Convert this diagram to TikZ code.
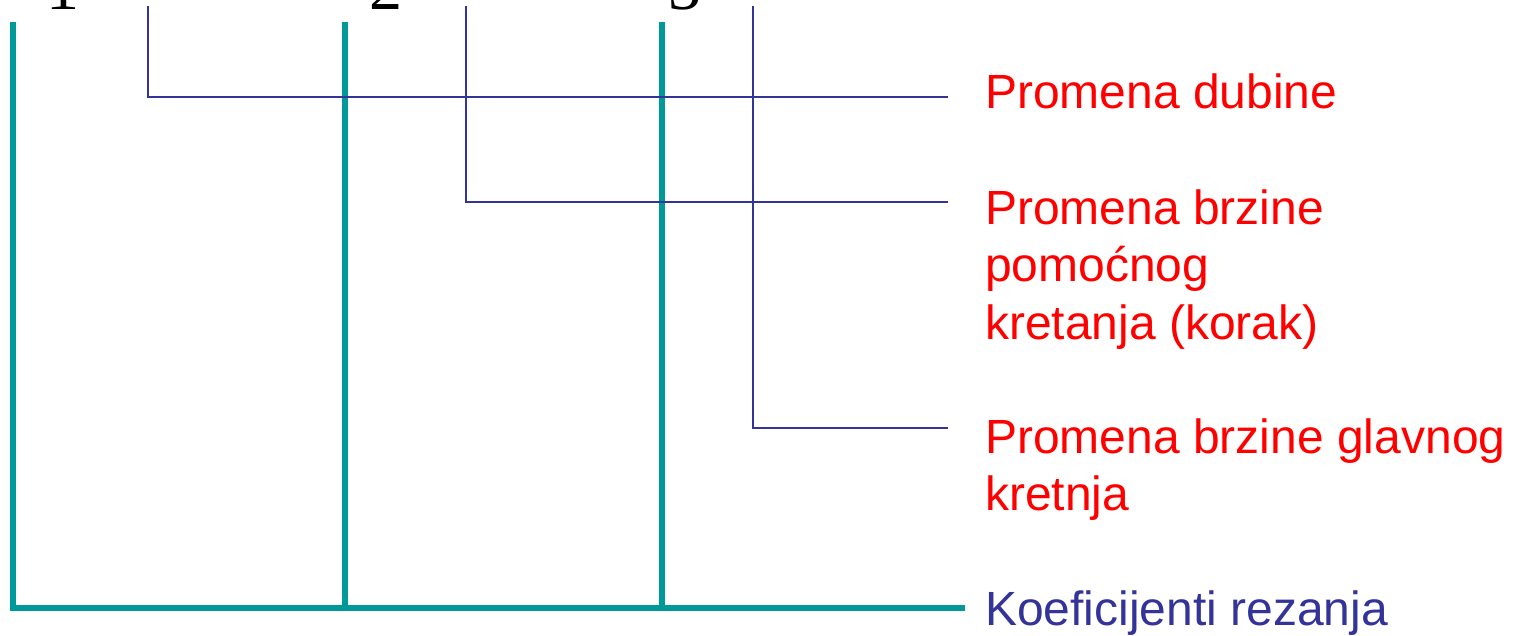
\documentclass[tikz,border=0pt]{standalone}
\usepackage{fontspec}
\setmainfont{Liberation Sans}
\newfontfamily\digitfont{Liberation Serif}
\definecolor{tealc}{HTML}{009999}
\definecolor{bluec}{HTML}{333399}
\definecolor{redc}{HTML}{FF0000}
\tikzset{
  tealline/.style={draw=tealc, line width=5.5pt, line join=miter},
  blueline/.style={draw=bluec, line width=2pt},
  lbl/.style={anchor=base west, inner sep=0pt, font=\fontsize{48}{57.6}\selectfont, text=redc},
  digit/.style={anchor=base, inner sep=0pt, font=\digitfont\fontsize{66}{70}\selectfont, text=black}
}
\begin{document}
\begin{tikzpicture}[x=1pt,y=-1pt]
\useasboundingbox (0,0) rectangle (1518,635);
\clip (0,0) rectangle (1518,635);
% digits cut off at the top
\node[digit] (d1) at (63,9) {1};
\node[digit] (d2) at (386,9) {2};
\node[digit] (d3) at (685,9) {3};
% teal structure
\coordinate (k1t) at (13,22);
\coordinate (k1b) at (13,608);
\coordinate (k2t) at (345,22);
\coordinate (k2b) at (345,608);
\coordinate (k3t) at (662,22);
\coordinate (k3b) at (662,608);
\coordinate (ke) at (965,608);
\draw[tealline] (k1t) -- (k1b) -- (ke);
\draw[tealline] (k2t) -- (k2b);
\draw[tealline] (k3t) -- (k3b);
% blue leaders
\coordinate (b1t) at (148,6);
\coordinate (b1c) at (148,97);
\coordinate (b1e) at (948,97);
\coordinate (b2t) at (466,6);
\coordinate (b2c) at (466,202);
\coordinate (b2e) at (948,202);
\coordinate (b3t) at (753,6);
\coordinate (b3c) at (753,428);
\coordinate (b3e) at (948,428);
\draw[blueline] (b1t) -- (b1c) -- (b1e);
\draw[blueline] (b2t) -- (b2c) -- (b2e);
\draw[blueline] (b3t) -- (b3c) -- (b3e);
% labels
\node[lbl] (t1) at (985,108) {Promena dubine};
\node[lbl] (t2) at (985,224) {\vtop{\baselineskip=57.6pt\hbox{Promena brzine}\hbox{pomoćnog}\hbox{kretanja (korak)}}};
\node[lbl] (t3) at (985,453) {\vtop{\baselineskip=57.6pt\hbox{Promena brzine glavnog}\hbox{kretnja}}};
\node[lbl, text=bluec] (t4) at (985,625) {Koeficijenti rezanja};
\end{tikzpicture}
\end{document}
